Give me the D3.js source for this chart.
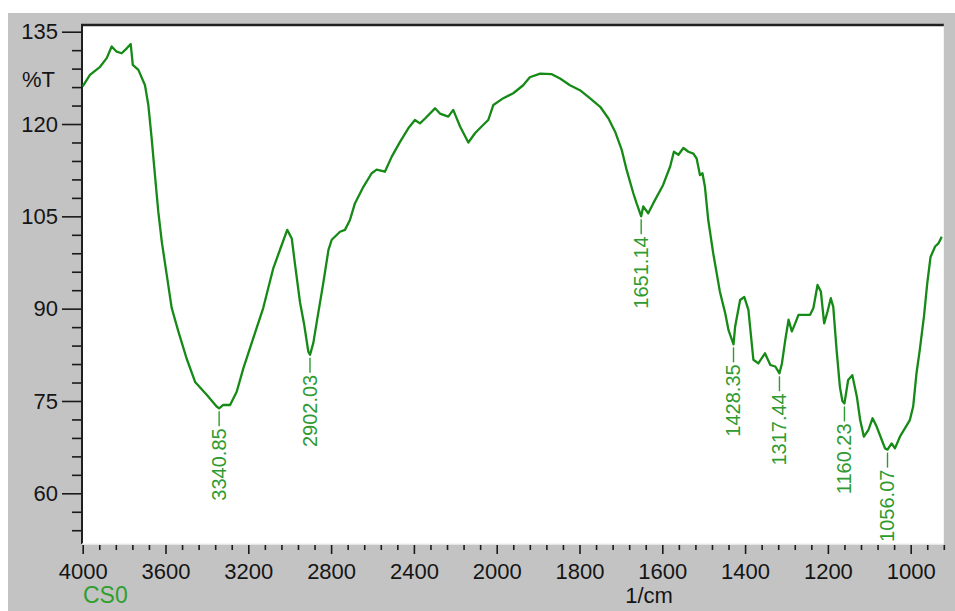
<!DOCTYPE html>
<html>
<head>
<meta charset="utf-8">
<script src="https://cdn.jsdelivr.net/npm/d3@7"></script>
<style>
  html, body { margin: 0; padding: 0; background: #ffffff; }
  svg { display: block; }
  text { font-family: "Liberation Sans", Arial, sans-serif; }
</style>
</head>
<body>
<script>
// FTIR spectrum of sample CS0: wavenumber (1/cm) vs transmittance (%T)
const wavenumbers = [
  4000, 3965, 3916, 3884, 3860, 3836, 3812, 3787, 3768, 3758, 3731, 3699, 3683, 3667, 3651,
  3635, 3618, 3594, 3570, 3538, 3498, 3457, 3401, 3353, 3341, 3321, 3288, 3256, 3224, 3176,
  3128, 3079, 3039, 3012, 2990, 2974, 2950, 2931, 2910, 2902, 2886, 2866, 2838, 2813, 2797,
  2757, 2733, 2709, 2685, 2644, 2604, 2580, 2540, 2507, 2467, 2427, 2395, 2371, 2346, 2298,
  2274, 2234, 2210, 2177, 2137, 2105, 2073, 2041, 2016, 1984, 1960, 1936, 1920, 1895, 1867,
  1847, 1823, 1799, 1775, 1750, 1730, 1714, 1698, 1686, 1670, 1662, 1651, 1646, 1634, 1622,
  1598, 1581, 1572, 1561, 1549, 1537, 1525, 1517, 1509, 1503, 1497, 1489, 1477, 1461, 1448,
  1440, 1428, 1424, 1412, 1402, 1392, 1380, 1368, 1352, 1339, 1327, 1317, 1311, 1303, 1295,
  1287, 1279, 1271, 1255, 1243, 1235, 1225, 1217, 1209, 1201, 1193, 1187, 1179, 1171, 1165,
  1160, 1151, 1141, 1130, 1122, 1113, 1102, 1092, 1082, 1070, 1062, 1056, 1046, 1038, 1026,
  1014, 1002, 994, 986, 978, 968, 960, 952, 941, 933, 925
];
const transmittance = [
  126.1, 128.0, 129.3, 130.7, 132.6, 131.75, 131.5, 132.3, 133.0, 129.6, 128.8, 126.3, 123.1, 117.7, 111.7,
  105.8, 100.9, 95.5, 90.1, 86.3, 81.9, 78.1, 76.0, 74.1, 73.8, 74.35, 74.35, 76.5, 80.3, 85.2,
  90.1, 96.6, 100.3, 102.8, 101.4, 97.1, 91.0, 87.6, 83.0, 82.5, 84.4, 88.5, 94.1, 99.5, 101.2,
  102.5, 102.8, 104.4, 107.1, 109.8, 112.0, 112.6, 112.25, 114.7, 117.1, 119.3, 120.65, 120.1, 120.9, 122.55,
  121.7, 121.2, 122.3, 119.6, 117.0, 118.5, 119.6, 120.65, 123.1, 124.2, 125.0, 126.3, 127.6, 128.2, 128.1,
  127.4, 126.3, 125.5, 124.2, 122.8, 120.9, 118.75, 115.8, 112.5, 108.75, 107.1, 105.0, 106.6, 105.5, 107.1,
  110.1, 113.1, 115.5, 115.0, 116.1, 115.5, 115.2, 114.4, 111.7, 112.0, 109.8, 104.4, 99.0, 92.8, 89.25,
  86.5, 84.2, 87.1, 91.4, 91.9, 89.8, 81.7, 81.1, 82.75, 80.85, 80.6, 79.5, 81.1, 84.9, 88.2,
  86.3, 87.6, 89.0, 89.0, 89.0, 90.1, 93.85, 92.8, 87.6, 89.5, 91.7, 90.3, 83.3, 77.3, 75.0,
  74.6, 78.4, 79.2, 75.7, 71.9, 69.2, 70.3, 72.2, 70.8, 68.7, 67.3, 67.1, 68.1, 67.3, 69.2,
  70.55, 71.9, 74.1, 79.5, 83.3, 88.7, 94.1, 98.4, 100.1, 100.6, 101.7
];

// Picked peaks (wavenumber positions and their printed labels)
const peakWavenumbers = [3341, 2902, 1651, 1428, 1317, 1160, 1056];
const peakLabels = ["3340.85", "2902.03", "1651.14", "1428.35", "1317.44", "1160.23", "1056.07"];

// Axis ticks
const xMajorTicks = [4000, 3600, 3200, 2800, 2400, 2000, 1800, 1600, 1400, 1200, 1000];
const yMajorTicks = [60, 75, 90, 105, 120, 135];
const sampleName = "CS0";
const xTitle = "1/cm";
const yTitle = "%T";

const W = 955, H = 611;
const plot = { left: 82, top: 25, right: 943.8, bottom: 544 };

const svg = d3.select("body").append("svg").attr("width", W).attr("height", H);

// Window background
svg.append("rect").attr("x", 8).attr("y", 13).attr("width", W - 8).attr("height", H - 13)
  .attr("fill", "#c3c3c3");

// Wavenumber axis: compressed scale above 2000 1/cm, expanded below
const x = d3.scaleLinear().domain([4000, 2000, 920]).range([82.7, 496.7, plot.right]);
const y = d3.scaleLinear().domain([60, 135]).range([493.3, 31.7]);

svg.append("rect").attr("x", plot.left).attr("y", plot.top)
  .attr("width", plot.right - plot.left).attr("height", plot.bottom - plot.top)
  .attr("fill", "#ffffff");

// Minor tick values
const xMinorTicks = [];
for (let v = 3920; v > 2000; v -= 80) if (v % 400 !== 0) xMinorTicks.push(v);
for (let v = 1960; v >= 920; v -= 40) if (v % 200 !== 0) xMinorTicks.push(v);
const yMinorTicks = [];
for (let v = 54; v <= 135; v += 3) if (v % 15 !== 0) yMinorTicks.push(v);

// Bottom axis
const gx = svg.append("g").attr("transform", `translate(0,${plot.bottom + 1})`)
  .call(d3.axisBottom(x).tickValues(xMajorTicks).tickSize(9).tickPadding(9).tickFormat(d3.format("d")));
const gxm = svg.append("g").attr("transform", `translate(0,${plot.bottom + 1})`)
  .call(d3.axisBottom(x).tickValues(xMinorTicks).tickSize(5).tickFormat(""));

// Left axis
const gy = svg.append("g").attr("transform", `translate(${plot.left},0)`)
  .call(d3.axisLeft(y).tickValues(yMajorTicks).tickSize(20).tickPadding(4).tickFormat(d3.format("d")));
const gym = svg.append("g").attr("transform", `translate(${plot.left},0)`)
  .call(d3.axisLeft(y).tickValues(yMinorTicks).tickSize(10).tickFormat(""));

[gx, gxm, gy, gym].forEach(g => {
  g.select(".domain").remove();
  g.selectAll(".tick line").attr("stroke", "#1a1a1a").attr("stroke-width", 1.6);
  g.selectAll(".tick text").attr("fill", "#151515").attr("font-size", 22)
    .attr("font-family", "'Liberation Sans', Arial, sans-serif");
});

// Plot frame: dark top and left edges, light bottom edge
svg.append("line").attr("x1", plot.left - 1).attr("x2", plot.right).attr("y1", plot.top).attr("y2", plot.top)
  .attr("stroke", "#202020").attr("stroke-width", 2.5);
svg.append("line").attr("x1", plot.left).attr("x2", plot.left).attr("y1", plot.top).attr("y2", plot.bottom)
  .attr("stroke", "#202020").attr("stroke-width", 2);
svg.append("line").attr("x1", plot.left).attr("x2", plot.right).attr("y1", plot.bottom).attr("y2", plot.bottom)
  .attr("stroke", "#f2f2f2").attr("stroke-width", 1.5);

// Spectrum trace
const points = wavenumbers.map((w, i) => [w, transmittance[i]]);
svg.append("path")
  .datum(points)
  .attr("fill", "none")
  .attr("stroke", "#168a16")
  .attr("stroke-width", 2.3)
  .attr("stroke-linejoin", "round")
  .attr("d", d3.line().x(d => x(d[0])).y(d => y(d[1])));

// Peak labels with leader dashes, written bottom-to-top
const labelColor = "#2f9a2f";
peakWavenumbers.forEach((w, k) => {
  const i = wavenumbers.indexOf(w);
  const px = x(w), py = y(transmittance[i]);
  const top = py + 3, dashLen = 15;
  svg.append("line").attr("x1", px).attr("x2", px).attr("y1", top).attr("y2", top + dashLen)
    .attr("stroke", labelColor).attr("stroke-width", 1.4);
  svg.append("text")
    .attr("transform", `translate(${px},${top + dashLen + 2}) rotate(-90)`)
    .attr("text-anchor", "end")
    .attr("dy", "0.35em")
    .attr("font-size", 20)
    .attr("fill", labelColor)
    .text(peakLabels[k]);
});

// Titles
svg.append("text").attr("x", 22).attr("y", 87).attr("font-size", 22).attr("fill", "#151515").text(yTitle);
svg.append("text").attr("x", 649).attr("y", 603).attr("text-anchor", "middle")
  .attr("font-size", 22).attr("fill", "#151515").text(xTitle);
svg.append("text").attr("x", 83).attr("y", 603).attr("font-size", 23).attr("fill", "#2f9f2f").text(sampleName);
</script>
</body>
</html>
